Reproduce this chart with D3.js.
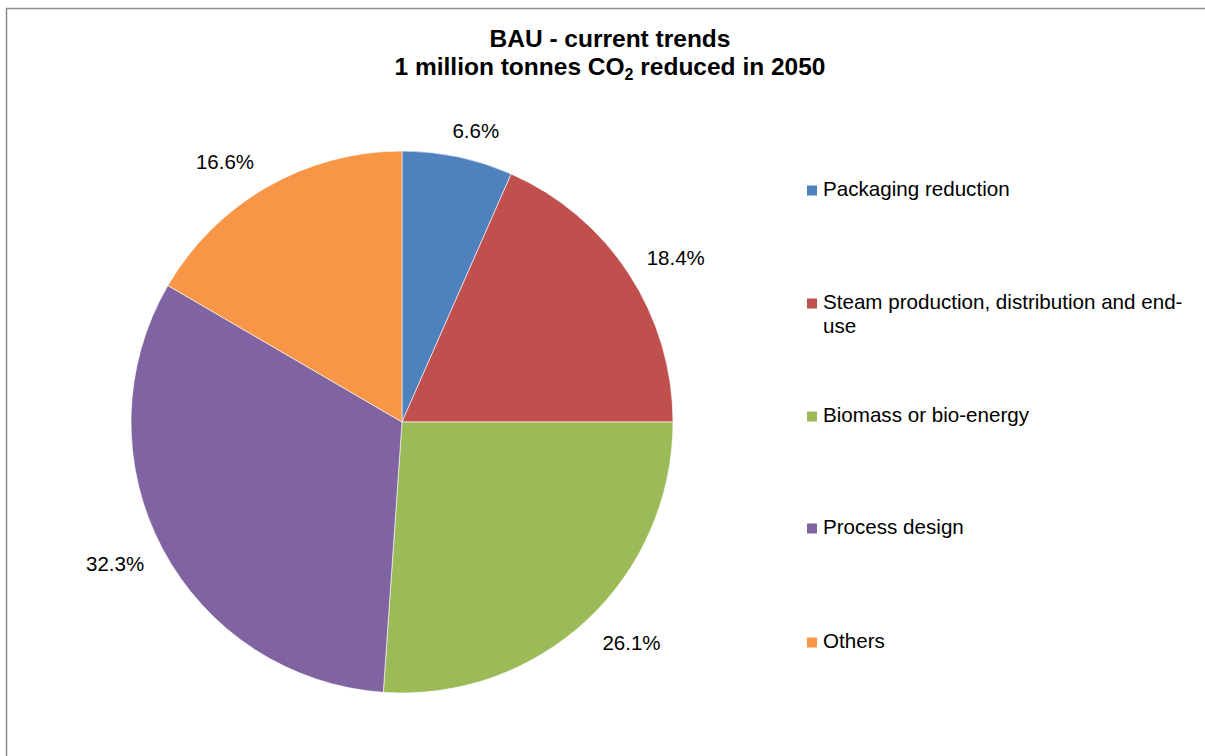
<!DOCTYPE html>
<html>
<head>
<meta charset="utf-8">
<script src="https://cdn.jsdelivr.net/npm/d3@7"></script>
<style>
  html, body { margin: 0; padding: 0; background: #fff; }
  svg { display: block; font-family: "Liberation Sans", Arial, sans-serif; }
</style>
</head>
<body>
<svg id="chart" width="1205" height="756"></svg>
<script>
const categories = ["Packaging reduction", "Steam production, distribution and end-use", "Biomass or bio-energy", "Process design", "Others"];
const legendLines = [["Packaging reduction"], ["Steam production, distribution and end-", "use"], ["Biomass or bio-energy"], ["Process design"], ["Others"]];
const values = [6.6, 18.4, 26.1, 32.3, 16.6];
const colors = ["#4F81BD", "#C0504D", "#9BBB59", "#8064A2", "#F79646"];

const svg = d3.select("#chart");
const W = 1205, H = 756;

svg.append("rect").attr("x", 6.5).attr("y", 8.5).attr("width", W + 10).attr("height", H + 10)
  .attr("fill", "#fff").attr("stroke", "#8c8c8c").attr("stroke-width", 1.5);

// Title
const title = svg.append("text").attr("text-anchor", "middle").attr("font-weight", "bold")
  .attr("font-size", 24.5).attr("fill", "#000");
title.append("tspan").attr("x", 610).attr("y", 47).text("BAU - current trends");
const t2 = title.append("tspan").attr("x", 610).attr("y", 75);
t2.text("1 million tonnes CO");
title.append("tspan").attr("font-size", 16).attr("dy", 5).text("2");
title.append("tspan").attr("dy", -5).text(" reduced in 2050");

// Pie
const cx = 402, cy = 422, R = 271;
const pie = d3.pie().sort(null).value(d => d)(values);
const arc = d3.arc().innerRadius(0).outerRadius(R);
const g = svg.append("g").attr("transform", `translate(${cx},${cy})`);
g.selectAll("path").data(pie).join("path")
  .attr("d", arc)
  .attr("fill", (d, i) => colors[i])
  .attr("stroke", "#ffffff").attr("stroke-width", 0.6);

// Labels outside end
const fmt = d => d.toFixed(1) + "%";
g.selectAll("text.lbl").data(pie).join("text")
  .attr("class", "lbl")
  .attr("font-size", 20.5).attr("fill", "#000")
  .attr("text-anchor", "middle").attr("dominant-baseline", "central")
  .text(d => fmt(d.data))
  .each(function(d) {
    const a = (d.startAngle + d.endAngle) / 2;
    const bb = this.getBBox();
    const hw = bb.width / 2 + 6, hh = 13;
    const s = Math.sin(a), c = Math.cos(a);
    const D = R + 14;
    const ox = Math.sign(s) * hw * Math.min(1, 2.5 * Math.abs(s));
    const oy = -Math.sign(c) * hh * Math.min(1, 1.3 * Math.abs(c));
    d3.select(this).attr("x", D * s + ox).attr("y", -D * c + oy);
  });

// Legend
const legendY = [189, 302, 415, 527, 641];
const lg = svg.append("g");
legendLines.forEach((lines, i) => {
  lg.append("rect").attr("x", 807).attr("y", legendY[i] - 3.5).attr("width", 10).attr("height", 10)
    .attr("fill", colors[i]);
  const t = lg.append("text").attr("font-size", 20.6).attr("fill", "#000");
  lines.forEach((ln, j) => {
    t.append("tspan").attr("x", 823).attr("y", legendY[i] + 7 + j * 24).text(ln);
  });
});
</script>
</body>
</html>
